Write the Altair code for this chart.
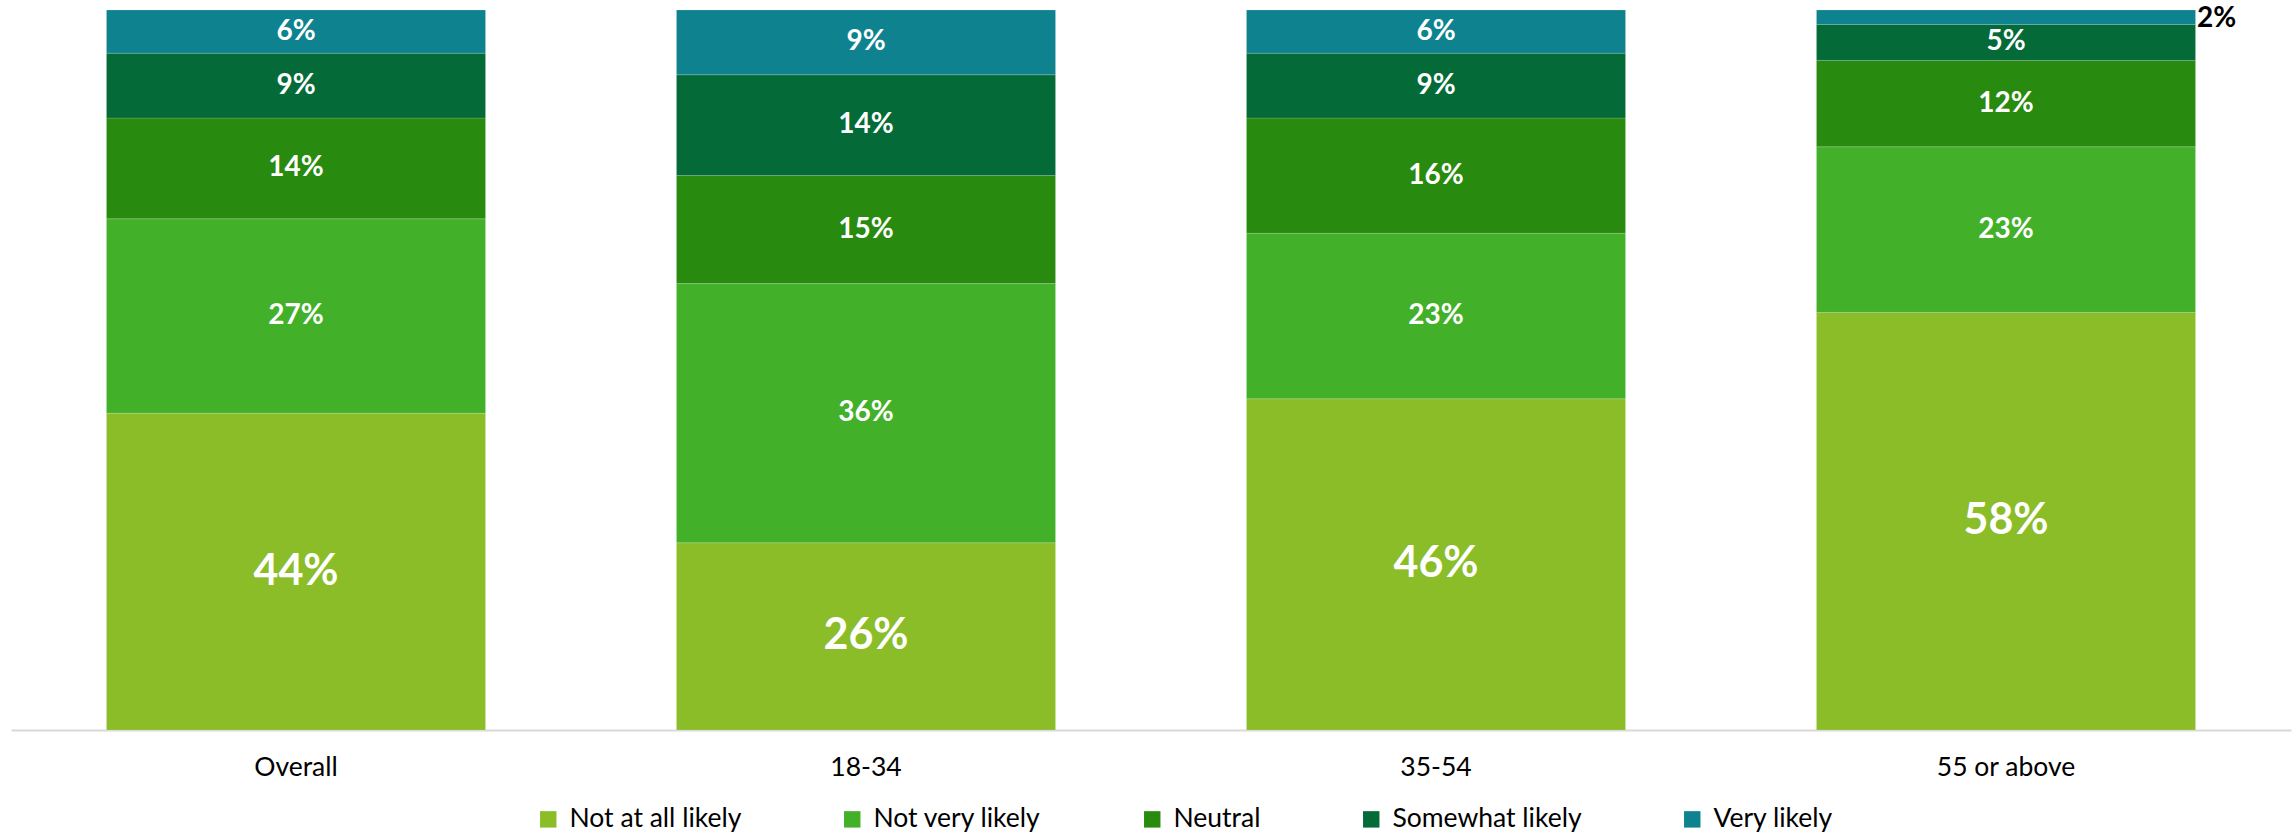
import altair as alt
import pandas as pd

# Survey responses by age group (percent of respondents)
groups = ["Overall", "18-34", "35-54", "55 or above"]
levels = ["Not at all likely", "Not very likely", "Neutral", "Somewhat likely", "Very likely"]
colors = ["#8ABD28", "#43B02A", "#288A0E", "#046A38", "#0E838F"]

not_at_all_likely = [44, 26, 46, 58]
not_very_likely = [27, 36, 23, 23]
neutral = [14, 15, 16, 12]
somewhat_likely = [9, 14, 9, 5]
very_likely = [6, 9, 6, 2]

series = [not_at_all_likely, not_very_likely, neutral, somewhat_likely, very_likely]

rows = []
for gi, g in enumerate(groups):
    start = 0
    for li, lvl in enumerate(levels):
        v = series[li][gi]
        rows.append({
            "group": g,
            "level": lvl,
            "rank": li,
            "value": v,
            "start": start,
            "end": start + v,
            "mid": start + v / 2,
            "label": f"{v}%",
        })
        start += v
df = pd.DataFrame(rows)

FONT = "Lato"

x_enc = alt.X(
    "group:N",
    sort=groups,
    title=None,
    scale=alt.Scale(paddingInner=0.335, paddingOuter=0.1675),
    axis=alt.Axis(
        labelAngle=0,
        ticks=False,
        domainColor="#D9D9D9",
        domainWidth=2,
        labelFontSize=26.5,
        labelFont=FONT,
        labelColor="#000000",
        labelPadding=24,
        grid=False,
    ),
)
y_scale = alt.Scale(domain=[0, 100], nice=False, zero=True)

bars = alt.Chart(df).mark_bar(stroke="white", strokeWidth=0.6, strokeOpacity=0.25).encode(
    x=x_enc,
    y=alt.Y("start:Q", scale=y_scale, axis=None),
    y2="end:Q",
    color=alt.Color(
        "level:N",
        sort=levels,
        scale=alt.Scale(domain=levels, range=colors),
        legend=alt.Legend(
            title=None,
            orient="none",
            direction="horizontal",
            legendX=524,
            legendY=796,
            symbolType="square",
            symbolSize=270,
            symbolStrokeWidth=0,
            labelFontSize=26.5,
            labelFont=FONT,
            labelColor="#000000",
            labelOffset=8,
            labelLimit=1000,
            columnPadding=97,
        ),
    ),
)

base_text = alt.Chart(df).encode(
    x=alt.X("group:N", sort=groups),
    y=alt.Y("mid:Q", scale=y_scale),
    text="label:N",
)

big_labels = base_text.transform_filter(
    alt.datum.rank == 0
).mark_text(font=FONT, fontWeight="bold", fontSize=43, color="white", baseline="middle")

small_labels = base_text.transform_filter(
    (alt.datum.rank > 0) & (alt.datum.value >= 4)
).mark_text(font=FONT, fontWeight="bold", fontSize=28, color="white", baseline="middle")

outside_labels = base_text.transform_filter(
    alt.datum.value < 4
).mark_text(font=FONT, fontWeight="bold", fontSize=28, color="black", baseline="middle",
            align="left", dx=191, dy=2)

chart = alt.layer(bars, big_labels, small_labels, outside_labels).properties(
    width=2280,
    height=720,
    background="white",
    autosize=alt.AutoSizeParams(type="none"),
    padding={"left": 11, "top": 10, "right": 2, "bottom": 105},
).configure_view(stroke=None)

chart.save("out.html", embed_options={"renderer": "svg", "actions": False})
